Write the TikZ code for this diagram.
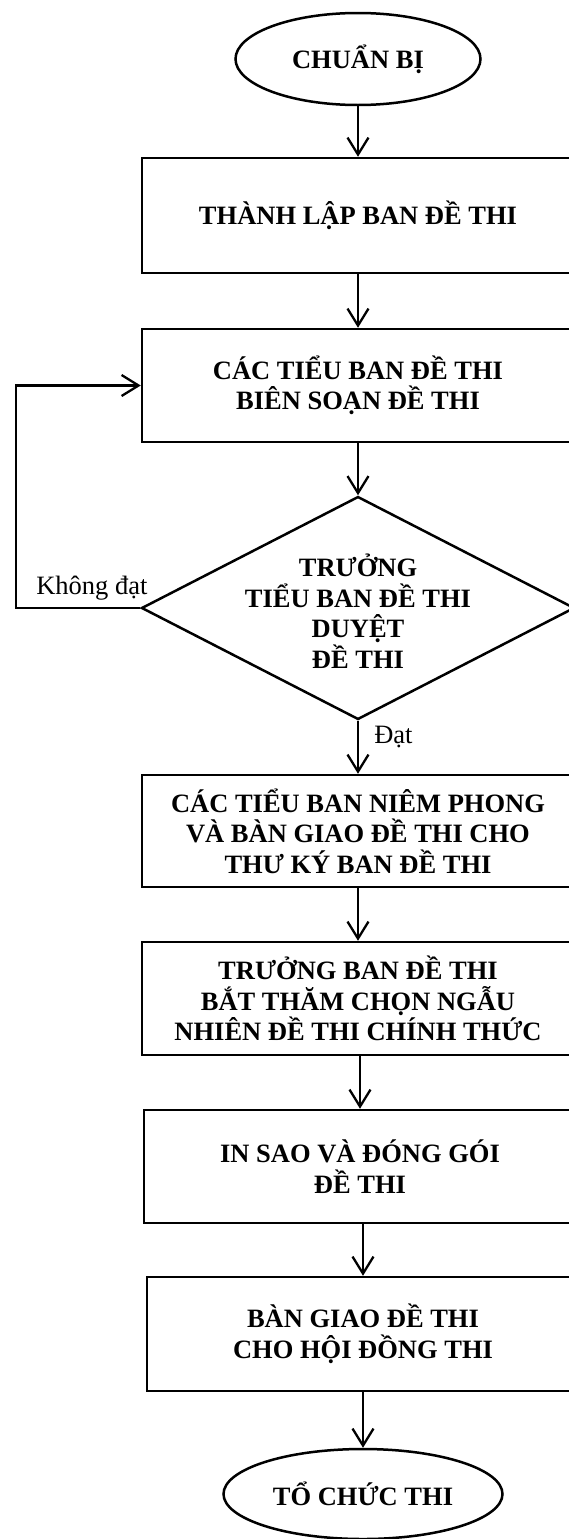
\documentclass[tikz,border=0pt]{standalone}
\usepackage{fontspec}
\setmainfont{Liberation Serif}
\usetikzlibrary{shapes.geometric,arrows.meta}
\begin{document}
\begin{tikzpicture}[x=1pt,y=1pt,
  line width=2.5pt,
  box/.style={draw, rectangle, minimum width=432pt, inner sep=0pt, align=center, font=\fontsize{26.5}{30.5}\selectfont\bfseries},
  term/.style={draw, ellipse, inner sep=0pt, font=\fontsize{26.5}{30.5}\selectfont\bfseries},
  arr/.style={-{Straight Barb[length=17pt,width=21pt]}, line width=2.3pt},
  lbl/.style={inner sep=0pt, font=\fontsize{26.5}{30.5}\selectfont}]
\useasboundingbox (0,0) rectangle (569,-1539);
\clip (0,0) rectangle (569,-1539);
\node[term, minimum width=245pt, minimum height=92pt] (s) at (358,-59) {CHUẨN BỊ};
\node[box, minimum height=115pt] (b1) at (358,-215.5) {THÀNH LẬP BAN ĐỀ THI};
\node[box, minimum height=113pt] (b2) at (358,-385.5) {CÁC TIỂU BAN ĐỀ THI\\BIÊN SOẠN ĐỀ THI};
\node[draw, diamond, minimum width=433pt, minimum height=223pt, inner sep=0pt] (d) at (358,-608) {};
\node[inner sep=0pt, align=center, font=\fontsize{26.5}{30.5}\selectfont\bfseries] (dt) at (358,-611) {TRƯỞNG\\TIỂU BAN ĐỀ THI\\DUYỆT\\ĐỀ THI};
\node[box, minimum height=112pt] (b3) at (358,-831) {CÁC TIỂU BAN NIÊM PHONG\\VÀ BÀN GIAO ĐỀ THI CHO\\THƯ KÝ BAN ĐỀ THI};
\node[box, minimum height=113pt] (b4) at (358,-998.5) {TRƯỞNG BAN ĐỀ THI\\BẮT THĂM CHỌN NGẪU\\NHIÊN ĐỀ THI CHÍNH THỨC};
\node[box, minimum height=113pt] (b5) at (360,-1166.5) {IN SAO VÀ ĐÓNG GÓI\\ĐỀ THI};
\node[box, minimum height=114pt] (b6) at (363,-1334) {BÀN GIAO ĐỀ THI\\CHO HỘI ĐỒNG THI};
\node[term, minimum width=279pt, minimum height=90pt] (e) at (363,-1494) {TỔ CHỨC THI};
\coordinate (lc) at (16,-608);
\draw[arr] (s.south) -- (b1.north);
\draw[arr] (b1.south) -- (b2.north);
\draw[arr] (b2.south) -- (d.north);
\draw[arr] (d.south) -- (b3.north);
\draw[arr] (b3.south) -- (b4.north);
\draw[arr] (b4.south -| b5.north) -- (b5.north);
\draw[arr] (b5.south -| b6.north) -- (b6.north);
\draw[arr] (b6.south) -- (e.north);
\draw[arr] (d.west) -- (lc) |- (b2.west);
\node[lbl, anchor=base west] (kd) at (35,-594) {Không đạt};
\node[lbl, anchor=base west] (dat) at (373,-743) {Đạt};
\end{tikzpicture}
\end{document}
